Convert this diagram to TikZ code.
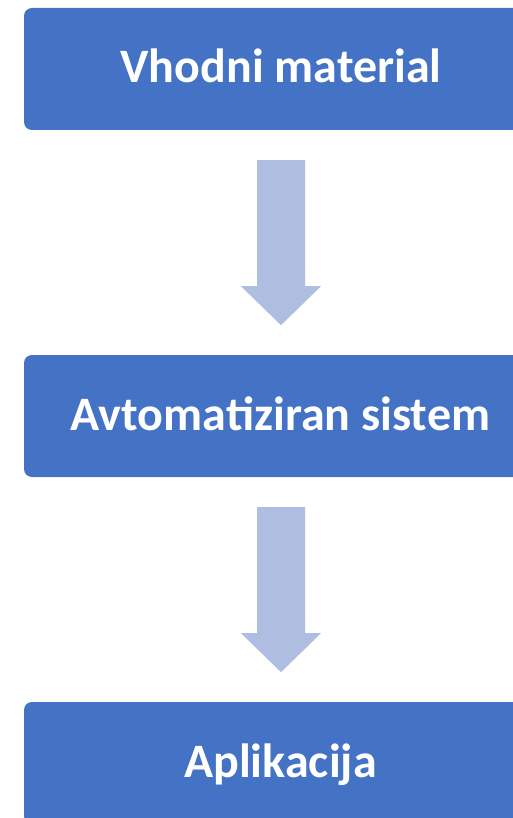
\documentclass[tikz,border=0pt]{standalone}
\usepackage{fontspec}
\setmainfont{Carlito}
\usetikzlibrary{calc}
\definecolor{boxblue}{HTML}{4472C4}
\definecolor{arrowblue}{HTML}{AFBDE0}
\begin{document}
\begin{tikzpicture}[x=1pt,y=1pt,
  stepbox/.style={draw=none,fill=boxblue,rounded corners=8pt,minimum width=516pt,minimum height=122pt,inner sep=0pt},
  steptext/.style={text=white,font=\fontsize{48}{57}\selectfont\bfseries,anchor=base,inner sep=0pt},
  blockarrow/.style={fill=arrowblue,draw=none}]
\useasboundingbox (0,0) rectangle (513,-818);
\begin{scope}
\clip (0,0) rectangle (513,-818);
\node[stepbox] (b1) at (282,-69) {};
\node[stepbox] (b2) at (282,-416) {};
\node[stepbox] (b3) at (282,-763) {};
\node[steptext] (t1) at (281,-83) {Vhodni material};
\node[steptext] (t2) at (280.5,-430) {Avtomatiziran sistem};
\node[steptext] (t3) at (280.5,-777) {Aplikacija};
\foreach \a/\b in {b1/b2,b2/b3}{
  \fill[blockarrow] ($(\a.south)+(-1,-30)$) coordinate (s)
    -- ++(-24,0) -- ++(0,-126) -- ++(-16,0) -- ++(40,-39) -- ++(40,39) -- ++(-16,0) -- ++(0,126) -- cycle;
}
\end{scope}
\end{tikzpicture}
\end{document}
